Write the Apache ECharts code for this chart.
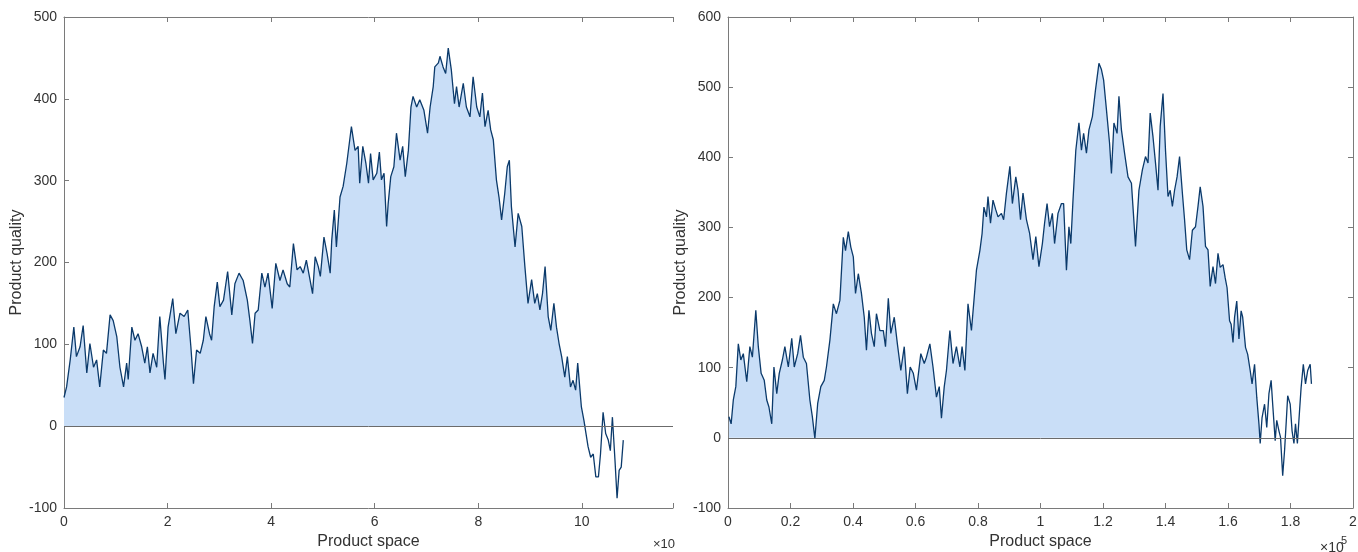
<!DOCTYPE html>
<html>
<head>
<meta charset="utf-8">
<script src="https://cdn.jsdelivr.net/npm/echarts@6/dist/echarts.min.js"></script>
<style>
html,body{margin:0;padding:0;background:#fff;}
#chart{width:1358px;height:552px;}
</style>
</head>
<body>
<div id="chart"></div>
<script>
// Left panel (x in units of 10^4)
const leftX_a = [0,0.05,0.12,0.19,0.24,0.31,0.37,0.44,0.50,0.57,0.63,0.69,0.76,0.82,0.89,0.95,1.02,1.08,1.15,1.21,1.24,1.31,1.37,1.43,1.50,1.56,1.61,1.66,1.72,1.79,1.85,1.92,1.95,2.01,2.10,2.16,2.24,2.32,2.39,2.45,2.50,2.56,2.63,2.69,2.74,2.81,2.85,2.90,2.96,3.01,3.08,3.16,3.24,3.30,3.38,3.46,3.54,3.59,3.64,3.69,3.75,3.82,3.88,3.94,4.02,4.09,4.17,4.23,4.31,4.36,4.43,4.50];
const leftY_a = [35,48,81,121,85,97,123,65,101,72,81,48,93,89,136,129,109,72,48,77,57,121,105,113,97,77,97,65,89,72,134,77,57,121,156,113,138,134,142,97,52,93,89,105,134,113,105,146,176,146,154,189,136,174,187,178,154,129,101,138,142,187,170,187,144,199,178,191,174,170,223,191];
const leftX_b = [4.56,4.62,4.68,4.75,4.80,4.85,4.91,4.95,5.02,5.08,5.14,5.17,5.22,5.26,5.33,5.39,5.46,5.51,5.55,5.62,5.68,5.71,5.77,5.83,5.88,5.92,5.97,6.04,6.09,6.13,6.18,6.23,6.26,6.31,6.37,6.42,6.49,6.54,6.59,6.65,6.70,6.74,6.81,6.87,6.95,7.02,7.07,7.13,7.16,7.23,7.26,7.32,7.37,7.42,7.48,7.54,7.58,7.63,7.71,7.77,7.84,7.90,7.97,8.03,8.08,8.13,8.19,8.24,8.29,8.35,8.40,8.45,8.51,8.56,8.60,8.64,8.71,8.77,8.84,8.90,8.96,9.03,9.09,9.14,9.19,9.24,9.29,9.35,9.40,9.46,9.51,9.56];
const leftY_b = [195,187,203,179,162,207,195,183,231,211,187,227,264,219,280,293,321,346,366,337,342,297,342,321,297,333,301,309,335,301,309,244,272,305,317,358,325,342,305,337,390,403,390,399,386,358,390,415,439,444,452,439,431,462,435,394,415,390,419,390,378,427,390,378,407,366,386,362,350,301,280,252,284,317,325,268,219,260,244,195,150,179,150,162,142,162,195,134,117,150,121,101];
const leftX_c = [9.61,9.67,9.72,9.78,9.83,9.88,9.92,9.99,10.04,10.08,10.12,10.17,10.22,10.27,10.32,10.36,10.41,10.46,10.51,10.55,10.59,10.64,10.68,10.72,10.76,10.80];
const leftY_c = [85,60,85,48,56,44,77,24,7,-9,-25,-38,-34,-62,-62,-34,17,-9,-17,-30,11,-42,-88,-54,-50,-17];
const leftFillEnd = 10.08;   // shaded region stops where the walk first drops below zero

// Right panel (x in units of 10^5)
const rightX_a = [0.003,0.010,0.017,0.025,0.033,0.041,0.049,0.060,0.070,0.078,0.089,0.097,0.106,0.116,0.124,0.131,0.140,0.147,0.156,0.164,0.174,0.182,0.193,0.204,0.212,0.223,0.232,0.241,0.251,0.262,0.270,0.278,0.287,0.297,0.308,0.315,0.326,0.337,0.347,0.358,0.369,0.376,0.385,0.393,0.401,0.408,0.417,0.427,0.436,0.443,0.451,0.459,0.468,0.475,0.486,0.497,0.504,0.513,0.521,0.532,0.542,0.553,0.564,0.574,0.583,0.593,0.603,0.617,0.628,0.635,0.646,0.656,0.667,0.676,0.683,0.692,0.699,0.710,0.720,0.731,0.742,0.749,0.758,0.768,0.779,0.788,0.795,0.806,0.813,0.819];
const rightY_a = [30,20,54,73,134,111,120,80,130,115,182,130,92,82,54,44,20,101,63,92,111,130,101,142,101,120,146,115,106,54,30,-1,49,73,82,101,139,191,177,196,286,267,294,272,258,206,234,206,172,125,182,149,130,177,153,153,130,199,149,172,134,96,130,63,101,92,68,120,106,115,134,101,58,73,28,73,96,153,106,130,101,130,96,191,153,201,239,267,291,329];
const rightX_b = [0.827,0.832,0.840,0.848,0.857,0.864,0.875,0.882,0.891,0.902,0.910,0.921,0.928,0.936,0.944,0.955,0.965,0.976,0.985,0.995,1.006,1.013,1.021,1.029,1.038,1.045,1.056,1.067,1.074,1.083,1.091,1.097,1.104,1.113,1.123,1.131,1.138,1.147,1.155,1.166,1.176,1.187,1.195,1.202,1.211,1.221,1.227,1.235,1.245,1.251,1.259,1.269,1.280,1.291,1.298,1.304,1.315,1.326,1.336,1.344,1.351,1.360,1.368,1.376,1.383,1.392,1.400,1.408,1.415,1.422,1.429,1.437,1.445,1.454,1.461,1.468,1.477,1.486,1.496,1.504,1.511,1.520,1.528,1.536,1.543,1.552,1.560,1.568];
const rightY_b = [315,344,306,339,325,315,320,311,349,387,334,372,353,311,349,311,292,254,287,244,277,306,334,301,320,277,320,334,334,239,301,277,339,410,449,410,434,406,439,458,496,534,525,510,468,420,377,449,434,487,439,406,372,363,315,273,353,382,401,392,463,429,392,353,444,491,410,344,353,330,353,372,401,349,311,268,254,296,301,330,358,330,273,268,216,244,220,263];
const rightX_c = [1.575,1.584,1.591,1.597,1.605,1.610,1.616,1.621,1.628,1.635,1.642,1.647,1.656,1.663,1.671,1.677,1.685,1.692,1.699,1.703,1.709,1.717,1.724,1.731,1.738,1.743,1.751,1.756,1.763,1.768,1.775,1.781,1.786,1.791,1.799,1.805,1.811,1.816,1.822,1.829,1.834,1.841,1.848,1.855,1.863,1.867];
const rightY_c = [243,247,228,214,167,162,136,172,195,141,181,172,129,119,96,77,105,58,20,-8,29,48,15,63,82,48,-4,25,10,1,-54,-18,20,60,48,10,-8,20,-8,39,72,105,77,96,105,77];
const rightFillEnd = 1.703;

const leftYTicks = [-100, 0, 100, 200, 300, 400, 500];
const rightYTicks = [-100, 0, 100, 200, 300, 400, 500, 600];
const xLabel = 'Product space';
const yLabel = 'Product quality';

const leftX = leftX_a.concat(leftX_b, leftX_c);
const leftY = leftY_a.concat(leftY_b, leftY_c);
const rightX = rightX_a.concat(rightX_b, rightX_c);
const rightY = rightY_a.concat(rightY_b, rightY_c);

const pairs = (xs, ys) => xs.map((x, i) => [x, ys[i]]);
const fillPairs = (xs, ys, end) => xs.map((x, i) => [x, Math.max(ys[i], 0)]).filter(p => p[0] <= end + 1e-9);

const AXIS = '#7a7a7a';
const TEXT = '#333333';
const FONT = 'Liberation Sans, Arial, Helvetica, sans-serif';
const LINE = '#0b3a6b';
const FILL = '#c9def7';

function xAx(grid, min, max, interval, pos, showLabel, name, dec) {
  return {
    type: 'value', gridIndex: grid, position: pos, min: min, max: max, interval: interval,
    name: showLabel ? name : '', nameLocation: 'middle', nameGap: 25,
    nameTextStyle: {fontFamily: FONT, fontSize: 16, color: TEXT},
    axisLine: {show: true, onZero: false, lineStyle: {color: AXIS, width: 1}},
    axisTick: {show: true, inside: true, length: 5, lineStyle: {color: AXIS}},
    axisLabel: {show: showLabel, margin: 7, fontFamily: FONT, fontSize: 14, color: TEXT,
      formatter: function (v) {
        const k = Math.round(v / interval);
        if (Math.abs(v - k * interval) > 1e-6) return '';
        return (k * interval).toFixed(dec).replace(/\.0+$/, '');
      }},
    splitLine: {show: false}
  };
}
function yAx(grid, min, max, pos, showLabel, name) {
  return {
    type: 'value', gridIndex: grid, position: pos, min: min, max: max, interval: 100,
    name: showLabel ? name : '', nameLocation: 'middle', nameGap: 37,
    nameTextStyle: {fontFamily: FONT, fontSize: 16, color: TEXT},
    axisLine: {show: true, onZero: false, lineStyle: {color: AXIS, width: 1}},
    axisTick: {show: true, inside: true, length: 5, lineStyle: {color: AXIS}},
    axisLabel: {show: showLabel, margin: 7, fontFamily: FONT, fontSize: 14, color: TEXT},
    splitLine: {show: false}
  };
}

const chart = echarts.init(document.getElementById('chart'), null, {renderer: 'canvas'});
chart.setOption({
  animation: false,
  backgroundColor: '#ffffff',
  grid: [
    {left: 64, top: 17, width: 609, height: 491, containLabel: false, outerBoundsMode: 'none'},
    {left: 728, top: 17, width: 625, height: 491, containLabel: false, outerBoundsMode: 'none'}
  ],
  xAxis: [
    xAx(0, 0, 11.76, 2, 'bottom', true, xLabel, 0),
    xAx(0, 0, 11.76, 2, 'top', false, xLabel, 0),
    xAx(1, 0, 2, 0.2, 'bottom', true, xLabel, 1),
    xAx(1, 0, 2, 0.2, 'top', false, xLabel, 1)
  ],
  yAxis: [
    yAx(0, leftYTicks[0], leftYTicks[leftYTicks.length - 1], 'left', true, yLabel),
    yAx(1, rightYTicks[0], rightYTicks[rightYTicks.length - 1], 'left', true, yLabel),
    yAx(1, rightYTicks[0], rightYTicks[rightYTicks.length - 1], 'right', false, yLabel)
  ],
  series: [
    {type: 'line', xAxisIndex: 0, yAxisIndex: 0, data: fillPairs(leftX, leftY, leftFillEnd), showSymbol: false, symbol: 'none',
      lineStyle: {width: 0, opacity: 0}, areaStyle: {color: FILL, opacity: 1, origin: 0}, z: 1, silent: true,
      markLine: {silent: true, symbol: 'none', label: {show: false}, lineStyle: {color: '#6b6b6b', type: 'solid', width: 1}, data: [{yAxis: 0}]}},
    {type: 'line', xAxisIndex: 0, yAxisIndex: 0, data: pairs(leftX, leftY), showSymbol: false, symbol: 'none',
      lineStyle: {color: LINE, width: 1.3}, z: 3, silent: true},
    {type: 'line', xAxisIndex: 2, yAxisIndex: 1, data: fillPairs(rightX, rightY, rightFillEnd), showSymbol: false, symbol: 'none',
      lineStyle: {width: 0, opacity: 0}, areaStyle: {color: FILL, opacity: 1, origin: 0}, z: 1, silent: true,
      markLine: {silent: true, symbol: 'none', label: {show: false}, lineStyle: {color: '#6b6b6b', type: 'solid', width: 1}, data: [{yAxis: 0}]}},
    {type: 'line', xAxisIndex: 2, yAxisIndex: 1, data: pairs(rightX, rightY), showSymbol: false, symbol: 'none',
      lineStyle: {color: LINE, width: 1.3}, z: 3, silent: true}
  ],
  graphic: [
    {type: 'text', left: 653, top: 538, style: {text: '×10', fontFamily: FONT, fontSize: 13, fill: TEXT}},
    {type: 'text', left: 1320, top: 541, style: {text: '×10', fontFamily: FONT, fontSize: 14, fill: TEXT}},
    {type: 'text', left: 1341, top: 535, style: {text: '5', fontFamily: FONT, fontSize: 11, fill: TEXT}}
  ]
});
</script>
</body>
</html>
